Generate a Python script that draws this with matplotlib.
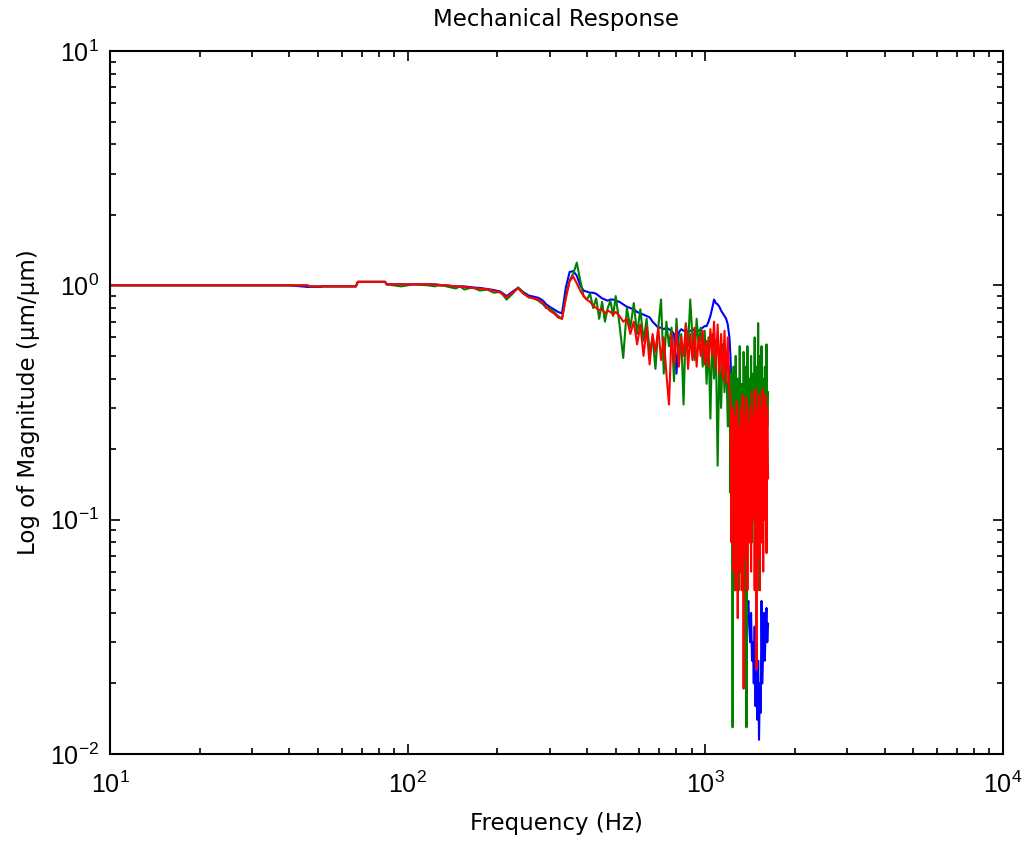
import matplotlib
matplotlib.use('Agg')
import matplotlib.pyplot as plt

plt.rcParams['font.family'] = ['Liberation Sans', 'DejaVu Sans']
plt.rcParams['mathtext.default'] = 'regular'
plt.rcParams['axes.unicode_minus'] = False

# ---------- frequency grid (Hz)
freq_lo = [10, 20, 30, 40, 46, 47, 51, 52, 60, 67, 68, 84, 85, 95, 105, 117, 124, 126,
           135, 145, 150, 155, 165, 175, 185, 195, 205, 215, 225, 235, 245, 255, 265, 275, 285, 292]
freq_mid = [300, 310, 320, 330, 340, 350, 360, 370, 380, 390, 400, 410, 420, 430, 440, 450,
            460, 470, 480, 490, 500,
            515, 530, 545, 560, 575, 590, 605, 620, 635, 650, 665, 680, 695, 710, 725, 740,
            755, 770, 785, 800, 815, 830, 845, 860, 875, 890, 905, 920, 935, 950, 965, 980,
            995, 1010, 1025, 1040, 1055, 1070, 1085, 1100, 1115, 1130, 1145, 1160, 1175, 1190, 1205]
freq_hi = [1215, 1225, 1235, 1245, 1255, 1265, 1275, 1285, 1295, 1305, 1315, 1325, 1335, 1345,
           1355, 1365, 1375, 1385, 1395, 1405, 1415, 1425, 1435, 1445, 1455, 1465, 1475, 1485,
           1495, 1505, 1515, 1525, 1535, 1545, 1555, 1565, 1575, 1585, 1595, 1605, 1615, 1625]

# ---------- blue trace
blue_lo = [1.0, 1.0, 1.0, 1.0, 0.985, 0.985, 0.985, 0.99, 0.99, 0.99, 1.035, 1.035, 1.01, 1.01,
           1.01, 1.01, 1.01, 1.0, 1.0, 0.99, 0.99, 0.99, 0.98, 0.975, 0.965, 0.955, 0.94, 0.90,
           0.94, 0.975, 0.935, 0.905, 0.895, 0.885, 0.86, 0.83]
blue_mid = [0.81, 0.79, 0.77, 0.76, 0.98, 1.14, 1.15, 1.10, 1.00, 0.95, 0.94, 0.93, 0.93, 0.92,
            0.90, 0.88, 0.87, 0.86, 0.87, 0.87, 0.86,
            0.85, 0.83, 0.81, 0.80, 0.79, 0.77, 0.76, 0.75, 0.74, 0.73, 0.70, 0.68, 0.66, 0.66,
            0.65, 0.66, 0.65, 0.64, 0.62, 0.42, 0.63, 0.65, 0.64, 0.64, 0.63, 0.64, 0.64, 0.65,
            0.64, 0.64, 0.65, 0.66, 0.67, 0.67, 0.70, 0.74, 0.80, 0.87, 0.84, 0.83, 0.81, 0.78,
            0.76, 0.74, 0.72, 0.68, 0.60]
blue_hi = [0.50, 0.35, 0.25, 0.20, 0.15, 0.12, 0.10, 0.09, 0.075, 0.08, 0.065, 0.07, 0.06, 0.065,
           0.05, 0.055, 0.045, 0.04, 0.045, 0.035, 0.03, 0.04, 0.025, 0.03, 0.02, 0.035, 0.016,
           0.03, 0.014, 0.025, 0.0115, 0.02, 0.015, 0.045, 0.02, 0.028, 0.04, 0.025, 0.035,
           0.042, 0.03, 0.036]

# ---------- green trace
green_lo = [1.0, 1.0, 1.0, 1.0, 1.0, 0.99, 0.99, 0.99, 0.99, 0.99, 1.035, 1.035, 1.01, 0.99,
            1.01, 1.0, 0.99, 1.01, 0.99, 0.97, 0.99, 0.96, 0.98, 0.95, 0.96, 0.93, 0.94, 0.87,
            0.92, 0.98, 0.93, 0.89, 0.88, 0.86, 0.83, 0.80]
green_mid = [0.80, 0.77, 0.74, 0.72, 0.90, 1.05, 1.12, 1.25, 1.05, 0.90, 0.87, 0.92, 0.80, 0.88,
             0.72, 0.85, 0.70, 0.80, 0.86, 0.74, 0.90,
             0.68, 0.49, 0.80, 0.66, 0.84, 0.62, 0.79, 0.58, 0.72, 0.52, 0.60, 0.44, 0.66, 0.87,
             0.42, 0.70, 0.55, 0.66, 0.39, 0.72, 0.50, 0.62, 0.31, 0.69, 0.55, 0.87, 0.60, 0.48,
             0.72, 0.55, 0.66, 0.45, 0.64, 0.38, 0.60, 0.27, 0.62, 0.40, 0.58, 0.17, 0.50, 0.30,
             0.56, 0.35, 0.52, 0.25, 0.45]
green_hi = [0.13, 0.42, 0.013, 0.45, 0.05, 0.50, 0.09, 0.40, 0.05, 0.55, 0.12, 0.38, 0.07, 0.52,
            0.15, 0.45, 0.013, 0.55, 0.10, 0.40, 0.18, 0.50, 0.08, 0.42, 0.15, 0.60, 0.06, 0.45,
            0.12, 0.69, 0.05, 0.50, 0.10, 0.55, 0.14, 0.40, 0.20, 0.45, 0.22, 0.56, 0.25, 0.35]

# ---------- red trace
red_lo = [1.0, 1.0, 1.0, 1.0, 1.0, 0.99, 0.99, 0.99, 0.99, 0.99, 1.035, 1.035, 1.01, 1.01,
          1.01, 1.01, 1.01, 1.0, 1.0, 0.99, 0.99, 0.985, 0.975, 0.97, 0.96, 0.95, 0.93, 0.89,
          0.93, 0.97, 0.92, 0.89, 0.88, 0.87, 0.84, 0.81]
red_mid = [0.78, 0.76, 0.73, 0.72, 0.88, 1.04, 1.09, 1.02, 0.95, 0.90, 0.87, 0.85, 0.82, 0.80,
           0.785, 0.79, 0.76, 0.78, 0.77, 0.75, 0.77,
           0.74, 0.70, 0.72, 0.62, 0.70, 0.56, 0.68, 0.50, 0.66, 0.46, 0.62, 0.52, 0.66, 0.48,
           0.60, 0.42, 0.31, 0.62, 0.46, 0.65, 0.45, 0.60, 0.50, 0.68, 0.44, 0.62, 0.48, 0.66,
           0.45, 0.60, 0.50, 0.64, 0.46, 0.58, 0.45, 0.65, 0.50, 0.70, 0.44, 0.68, 0.42, 0.62,
           0.40, 0.64, 0.38, 0.60, 0.36]
red_hi = [0.33, 0.08, 0.30, 0.06, 0.28, 0.05, 0.32, 0.038, 0.25, 0.06, 0.30, 0.05, 0.34, 0.019,
          0.28, 0.07, 0.33, 0.05, 0.26, 0.08, 0.30, 0.06, 0.35, 0.10, 0.28, 0.05, 0.36, 0.023,
          0.30, 0.07, 0.34, 0.05, 0.30, 0.08, 0.36, 0.06, 0.32, 0.10, 0.34, 0.072, 0.30, 0.15]

freq = freq_lo + freq_mid + freq_hi
blue = blue_lo + blue_mid + blue_hi
green = green_lo + green_mid + green_hi
red = red_lo + red_mid + red_hi
assert len(freq) == len(blue) == len(green) == len(red), (len(freq), len(blue), len(green), len(red))

fig = plt.figure(figsize=(10.29, 8.42), dpi=100)
ax = fig.add_axes([0.1069, 0.1045, 0.8678, 0.8349])

ax.loglog(freq, blue, color='#0000ff', lw=1.5)
ax.loglog(freq, green, color='#008000', lw=1.5)
ax.loglog(freq, red, color='#ff0000', lw=1.5)

ax.set_xlim(10, 1e4)
ax.set_ylim(1e-2, 10)
ax.tick_params(which='both', direction='in', top=True, right=True)
ax.tick_params(which='major', length=7, width=1.2, labelsize=18)
ax.tick_params(axis='x', which='major', pad=13)
ax.tick_params(axis='y', which='major', pad=8)
ax.tick_params(which='minor', length=4, width=1.2)
for s in ax.spines.values():
    s.set_linewidth(1.5)

lab = dict(fontsize=16.5, family=['DejaVu Sans'])
ax.set_title('Mechanical Response', pad=18, **lab)
ax.set_xlabel('Frequency (Hz)', labelpad=10, **lab)
ax.set_ylabel('Log of Magnitude (\u00b5m/\u00b5m)', labelpad=7, **lab)

fig.savefig('out.png')
